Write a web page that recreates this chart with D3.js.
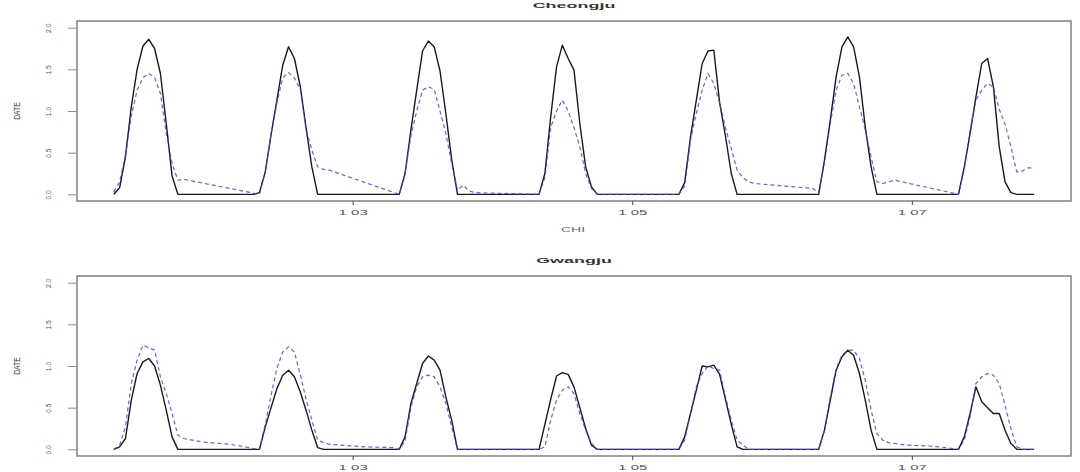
<!DOCTYPE html>
<html lang="en">
<head>
<meta charset="utf-8">
<title>Cheongju / Gwangju</title>
<script src="https://d3js.org/d3.v7.min.js"></script>
<style>
  body { margin: 0; background: #fff; }
  svg { display: block; font-family: "Liberation Sans", Arial, sans-serif; }
</style>
</head>
<body>
<div id="chart"></div>
<script>
// x = hours since 1 Jan 00:00, [hour, value]
const xTicks = [48, 96, 144];
const xTickLabels = ["1 03", "1 05", "1 07"];
const yTicks = [0, 0.5, 1, 1.5, 2];
const yTickLabels = ["0.0", "0.5", "1.0", "1.5", "2.0"];
const stations = ["Cheongju", "Gwangju"];

// solid black line
const cheongjuObs = [
  [7,0],[8,0.08],[9,0.45],[10,1.05],[11,1.5],[12,1.78],[13,1.86],[14,1.75],[15,1.45],[16,0.85],[17,0.22],[18,0],[31,0],
  [32,0.02],[33,0.27],[34,0.72],[35,1.13],[36,1.55],[37,1.77],[38,1.63],[39,1.3],[40,0.8],[41,0.33],[42,0],[56,0],
  [57,0.25],[58,0.77],[59,1.25],[60,1.72],[61,1.84],[62,1.77],[63,1.48],[64,0.97],[65,0.42],[66,0],[80,0],
  [81,0.25],[82,0.93],[83,1.53],[84,1.79],[85,1.63],[86,1.49],[87,0.85],[88,0.33],[89,0.09],[90,0],[104,0],
  [105,0.14],[106,0.69],[107,1.13],[108,1.57],[109,1.72],[110,1.73],[111,1.1],[112,0.7],[113,0.25],[114,0],[128,0],
  [129,0.41],[130,0.89],[131,1.41],[132,1.77],[133,1.89],[134,1.77],[135,1.41],[136,0.81],[137,0.33],[138,0],[152,0],
  [153,0.33],[154,0.73],[155,1.17],[156,1.57],[157,1.63],[158,1.29],[159,0.57],[160,0.15],[161,0.02],[162,0],[165,0]
];

// dashed blue line
const cheongjuEst = [
  [7,0.03],[8,0.15],[9,0.47],[10,0.94],[11,1.25],[12,1.4],[13,1.45],[14,1.4],[15,1.21],[16,0.73],[17,0.37],[18,0.17],[19,0.18],[32,0],
  [33,0.27],[34,0.72],[35,1.1],[36,1.4],[37,1.46],[38,1.4],[39,1.26],[40,0.78],[41,0.53],[42,0.33],[43,0.3],[44,0.29],[56,0],
  [57,0.25],[58,0.7],[59,1.0],[60,1.25],[61,1.29],[62,1.26],[63,1.0],[64,0.73],[65,0.37],[66,0.05],[67,0.11],[68,0.04],[69,0.02],[80,0],
  [81,0.2],[82,0.8],[83,1.0],[84,1.13],[85,1.0],[86,0.8],[87,0.57],[88,0.25],[89,0.07],[90,0],[104,0],
  [105,0.1],[106,0.65],[107,0.97],[108,1.25],[109,1.45],[110,1.33],[111,1.1],[112,0.8],[113,0.55],[114,0.29],[115,0.2],[116,0.15],[117,0.13],[127,0.07],[128,0.02],
  [129,0.38],[130,0.85],[131,1.25],[132,1.43],[133,1.45],[134,1.33],[135,1.05],[136,0.77],[137,0.45],[138,0.15],[139,0.13],[140,0.15],[141,0.17],[152,0],
  [153,0.3],[154,0.77],[155,1.13],[156,1.25],[157,1.33],[158,1.29],[159,1.02],[160,0.84],[161,0.57],[162,0.27],[163,0.28],[164,0.32],[165,0.31]
];

const gwangjuObs = [
  [7,0],[8,0.03],[9,0.13],[10,0.59],[11,0.91],[12,1.05],[13,1.09],[14,1.0],[15,0.77],[16,0.47],[17,0.15],[18,0],[32,0],
  [33,0.27],[34,0.5],[35,0.73],[36,0.89],[37,0.95],[38,0.87],[39,0.69],[40,0.47],[41,0.23],[42,0.02],[43,0],[56,0],
  [57,0.15],[58,0.55],[59,0.79],[60,1.03],[61,1.12],[62,1.07],[63,0.95],[64,0.63],[65,0.35],[66,0],[80,0],
  [81,0.3],[82,0.6],[83,0.88],[84,0.92],[85,0.9],[86,0.75],[87,0.5],[88,0.25],[89,0.05],[90,0],[104,0],
  [105,0.15],[106,0.43],[107,0.71],[108,1.0],[109,0.99],[110,1.01],[111,0.9],[112,0.6],[113,0.3],[114,0.03],[115,0],[128,0],
  [129,0.23],[130,0.59],[131,0.95],[132,1.11],[133,1.19],[134,1.13],[135,0.91],[136,0.59],[137,0.23],[138,0],[152,0],
  [153,0.15],[154,0.43],[155,0.75],[156,0.57],[157,0.5],[158,0.43],[159,0.43],[160,0.23],[161,0.07],[162,0],[165,0]
];

const gwangjuEst = [
  [7,0],[8,0.05],[9,0.27],[10,0.79],[11,1.07],[12,1.25],[13,1.22],[14,1.19],[15,0.87],[16,0.67],[17,0.43],[18,0.17],[19,0.13],[22,0.09],[27,0.06],[31,0.01],[32,0],
  [33,0.3],[34,0.65],[35,0.97],[36,1.17],[37,1.23],[38,1.17],[39,0.9],[40,0.6],[41,0.35],[42,0.11],[43,0.08],[44,0.06],[50,0.03],[55,0.02],[56,0],
  [57,0.1],[58,0.5],[59,0.75],[60,0.87],[61,0.89],[62,0.87],[63,0.75],[64,0.55],[65,0.27],[66,0],[80,0],
  [81,0.03],[82,0.35],[83,0.59],[84,0.71],[85,0.75],[86,0.67],[87,0.43],[88,0.23],[89,0.07],[90,0],[104,0],
  [105,0.11],[106,0.43],[107,0.75],[108,0.91],[109,1.0],[110,0.97],[111,0.95],[112,0.63],[113,0.35],[114,0.11],[115,0.05],[116,0],[128,0],
  [129,0.23],[130,0.63],[131,0.97],[132,1.13],[133,1.19],[134,1.19],[135,1.09],[136,0.83],[137,0.47],[138,0.19],[139,0.11],[140,0.08],[143,0.05],[147,0.04],[150,0.02],[152,0],
  [153,0.11],[154,0.39],[155,0.79],[156,0.87],[157,0.91],[158,0.89],[159,0.79],[160,0.53],[161,0.25],[162,0.03],[163,0],[165,0]
];

const width = 1080, height = 472;
const boxLeft = 77, boxRight = 1071, boxH = 180;

const svg = d3.select("#chart").append("svg")
  .attr("width", width)
  .attr("height", height);

// R-style axis range: data range widened by 4% each side
function pad(ext) {
  const d = (ext[1] - ext[0]) * 0.04;
  return [ext[0] - d, ext[1] + d];
}

const x = d3.scaleLinear()
  .domain(pad(d3.extent(cheongjuObs.concat(cheongjuEst), d => d[0])))
  .range([boxLeft, boxRight]);

const panels = [
  {title: stations[0], obs: cheongjuObs, est: cheongjuEst, top: 21, xlab: "CHI"},
  {title: stations[1], obs: gwangjuObs, est: gwangjuEst, top: 276, xlab: null}
];

panels.forEach(p => {
  const y = d3.scaleLinear()
    .domain(pad([yTicks[0], yTicks[yTicks.length - 1]]))
    .range([p.top + boxH, p.top]);

  const g = svg.append("g");

  const line = d3.line().x(d => x(d[0])).y(d => y(d[1]));

  g.append("path")
    .datum(p.obs)
    .attr("fill", "none")
    .attr("stroke", "#1a1a1a")
    .attr("stroke-width", 1.4)
    .attr("stroke-linejoin", "round")
    .attr("d", line);

  g.append("path")
    .datum(p.est)
    .attr("fill", "none")
    .attr("stroke", "#4646f0")
    .attr("stroke-opacity", 0.85)
    .attr("stroke-width", 1.2)
    .attr("stroke-dasharray", "4,3")
    .attr("d", line);

  g.append("rect")
    .attr("x", boxLeft)
    .attr("y", p.top)
    .attr("width", boxRight - boxLeft)
    .attr("height", boxH)
    .attr("fill", "none")
    .attr("stroke", "#777")
    .attr("stroke-width", 1.4);

  // x axis
  const gx = g.append("g")
    .attr("transform", `translate(0,${p.top + boxH})`)
    .call(d3.axisBottom(x).tickValues(xTicks).tickFormat((d, i) => xTickLabels[i]).tickSize(4));
  gx.select(".domain").remove();
  gx.selectAll(".tick line").attr("stroke", "#444");
  gx.selectAll(".tick text")
    .attr("y", null).attr("dy", null)
    .attr("fill", "#555")
    .attr("font-size", 6.5)
    .attr("transform", "translate(0,14) scale(2.3,1)");

  // y axis
  const gy = g.append("g")
    .attr("transform", `translate(${boxLeft},0)`)
    .call(d3.axisLeft(y).tickValues(yTicks).tickFormat((d, i) => yTickLabels[i]).tickSize(9));
  gy.select(".domain").remove();
  gy.selectAll(".tick line").attr("stroke", "#888");
  gy.selectAll(".tick text")
    .attr("x", null).attr("dy", null)
    .attr("text-anchor", "middle")
    .attr("fill", "#555")
    .attr("font-size", 8)
    .attr("transform", "translate(-26.5,0) rotate(-90) scale(0.85,1)");

  svg.append("text")
    .attr("transform", `translate(${(boxLeft + boxRight) / 2},${p.top - 13.5}) scale(2.3,1)`)
    .attr("text-anchor", "middle")
    .attr("font-size", 7.8)
    .attr("font-weight", "bold")
    .attr("fill", "#333")
    .text(p.title);

  svg.append("text")
    .attr("transform", `translate(20,${p.top + boxH / 2}) rotate(-90) scale(0.7,1)`)
    .attr("text-anchor", "middle")
    .attr("font-size", 9.7)
    .attr("fill", "#444")
    .text("DATE");

  if (p.xlab) {
    svg.append("text")
      .attr("transform", `translate(573,${p.top + boxH + 30.7}) scale(2,1)`)
      .attr("text-anchor", "middle")
      .attr("font-size", 7)
      .attr("fill", "#666")
      .text(p.xlab);
  }
});
</script>
</body>
</html>
